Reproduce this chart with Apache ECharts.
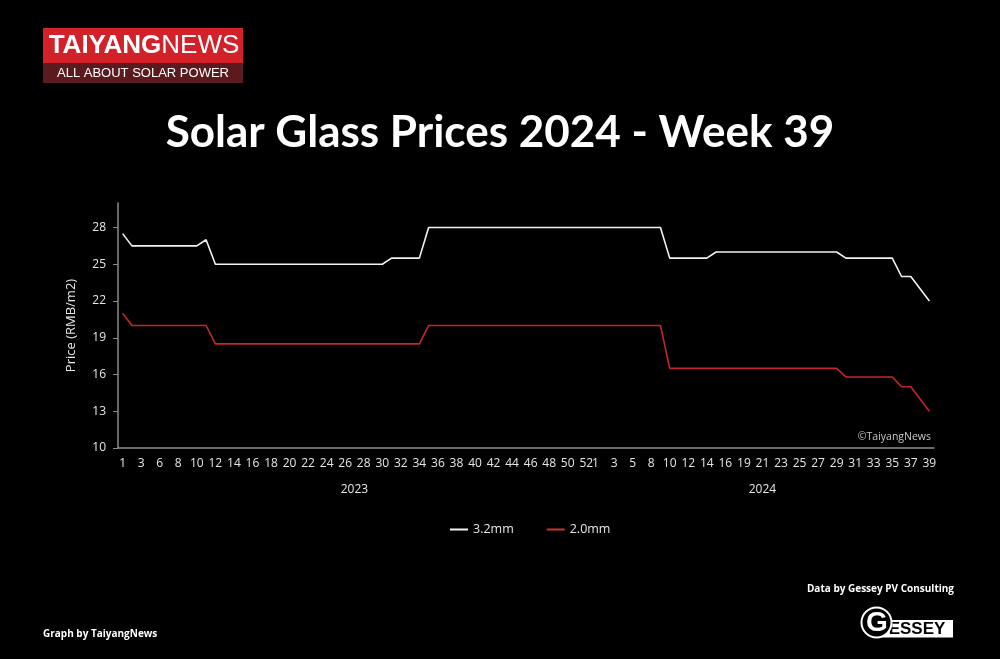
<!DOCTYPE html>
<html>
<head>
<meta charset="utf-8">
<script src="https://cdn.jsdelivr.net/npm/echarts@6/dist/echarts.min.js"></script>
<style>
html,body{margin:0;padding:0;background:#000;}
#c{width:1000px;height:659px;}
</style>
</head>
<body>
<div id="c"></div>
<script>
// Week numbers as shown on the category axis (grouped by year)
const weeks2023 = [1,2,3,5,6,7,8,9,10,11,12,13,14,15,16,17,18,19,20,21,22,23,24,25,26,27,28,29,30,31,32,33,34,35,36,37,38,39,40,41,42,43,44,45,46,47,48,49,50,51,52];
const weeks2024 = [1,2,3,4,5,7,8,9,10,11,12,13,14,15,16,17,19,20,21,22,23,24,25,26,27,28,29,30,31,32,33,34,35,36,37,38,39];
const years = ['2023','2024'];

// Prices (RMB/m2)
const price32mm = [
  27.5,
  26.5,26.5,26.5,26.5,26.5,26.5,26.5,26.5,
  27,
  25,25,25,25,25,25,25,25,25,25,25,25,25,25,25,25,25,25,25,
  25.5,25.5,25.5,25.5,
  28,28,28,28,28,28,28,28,28,28,28,28,28,28,28,28,28,28,28,28,28,28,28,28,28,28,
  25.5,25.5,25.5,25.5,25.5,
  26,26,26,26,26,26,26,26,26,26,26,26,26,26,
  25.5,25.5,25.5,25.5,25.5,25.5,
  24,24,
  23,
  22
];
const price20mm = [
  21,
  20,20,20,20,20,20,20,20,20,
  18.5,18.5,18.5,18.5,18.5,18.5,18.5,18.5,18.5,18.5,18.5,18.5,18.5,18.5,18.5,18.5,18.5,18.5,18.5,18.5,18.5,18.5,18.5,
  20,20,20,20,20,20,20,20,20,20,20,20,20,20,20,20,20,20,20,20,20,20,20,20,20,20,
  16.5,16.5,16.5,16.5,16.5,16.5,16.5,16.5,16.5,16.5,16.5,16.5,16.5,16.5,16.5,16.5,16.5,16.5,16.5,
  15.8,15.8,15.8,15.8,15.8,15.8,
  15,15,
  14,
  13
];
const yTicks = [10,13,16,19,22,25,28];

const categories = weeks2023.map(String).concat(weeks2024.map(String));
const n23 = weeks2023.length;
const n24 = weeks2024.length;
const mid23 = Math.floor(n23/2);
const mid24 = n23 + Math.floor(n24/2);

const chart = echarts.init(document.getElementById('c'), null, {renderer:'canvas'});
const font = 'Open Sans';
const option = {
  backgroundColor:'#000',
  animation:false,
  textStyle:{fontFamily:font},
  title:{
    text:'Solar Glass Prices 2024 - Week 39',
    left:'center', top:106,
    textStyle:{color:'#fff', fontSize:44, fontWeight:'bold', fontFamily:'Lato'}
  },
  legend:{
    left:445, top:518,
    icon:'rect', itemWidth:18, itemHeight:2, itemGap:33,
    textStyle:{color:'#e6e6e6', fontSize:12.5, fontFamily:font},
    data:['3.2mm','2.0mm']
  },
  grid:{left:118, right:66, top:203, bottom:211, containLabel:false},
  xAxis:[{
    type:'category',
    data:categories,
    boundaryGap:true,
    axisLine:{lineStyle:{color:'#8c8c8c', width:1.5}},
    axisTick:{show:false},
    axisLabel:{
      color:'#e6e6e6', fontSize:12, margin:10,
      interval:function(i){ return i < n23 ? i%2===0 : (i-n23)%2===0; }
    }
  },{
    type:'category',
    data:categories,
    position:'bottom',
    offset:26,
    boundaryGap:true,
    axisLine:{show:false},
    axisTick:{show:false},
    axisLabel:{
      color:'#e6e6e6', fontSize:12, margin:10,
      interval:function(i){ return i===mid23 || i===mid24; },
      formatter:function(v,i){ return i===mid23 ? years[0] : (i===mid24 ? years[1] : ''); }
    }
  }],
  yAxis:{
    type:'value',
    min:10, max:30, interval:3,
    name:'Price (RMB/m2)',
    nameLocation:'middle',
    nameGap:40,
    nameTextStyle:{color:'#e6e6e6', fontSize:13},
    axisLine:{show:true, lineStyle:{color:'#8c8c8c', width:1.5}},
    axisTick:{show:true, length:5, lineStyle:{color:'#8c8c8c'}, customValues:yTicks},
    axisLabel:{color:'#e6e6e6', fontSize:12, margin:12, customValues:yTicks,
      formatter:function(v){ return v===30 ? '' : v; }},
    splitLine:{show:false}
  },
  series:[{
    name:'3.2mm', type:'line', data:price32mm,
    symbol:'none', lineStyle:{color:'#f2f2f2', width:1.6}, itemStyle:{color:'#f2f2f2'}
  },{
    name:'2.0mm', type:'line', data:price20mm,
    symbol:'none', lineStyle:{color:'#c4262c', width:1.6}, itemStyle:{color:'#d0302f'}
  }],
  graphic:[
    {type:'rect', shape:{x:43,y:28,width:200,height:35}, style:{fill:'#d3212a'}},
    {type:'rect', shape:{x:43,y:63,width:200,height:20}, style:{fill:'#5a1a1e'}},
    {type:'text', x:144, y:45.5, style:{
      text:'{b|TAIYANG}{n|NEWS}', align:'center', verticalAlign:'middle',
      rich:{
        b:{fill:'#fff', fontSize:26, fontWeight:'bold', fontFamily:'Liberation Sans'},
        n:{fill:'#fff', fontSize:26, fontWeight:'normal', fontFamily:'Liberation Sans'}
      }
    }},
    {type:'text', x:143, y:73, style:{text:'ALL ABOUT SOLAR POWER', fill:'#fff', fontSize:13, fontFamily:'Liberation Sans', align:'center', verticalAlign:'middle'}},
    {type:'text', x:931, y:437, style:{text:'©TaiyangNews', fill:'#c8c8c8', fontSize:10.5, fontFamily:font, align:'right', verticalAlign:'middle'}},
    {type:'text', x:954, y:589, style:{text:'Data by Gessey PV Consulting', fill:'#fff', fontSize:10, fontWeight:'bold', fontFamily:font, align:'right', verticalAlign:'middle'}},
    {type:'text', x:43, y:634, style:{text:'Graph by TaiyangNews', fill:'#fff', fontSize:10, fontWeight:'bold', fontFamily:font, align:'left', verticalAlign:'middle'}},
    {type:'rect', shape:{x:880,y:620,width:73,height:17.5}, style:{fill:'#fff'}},
    {type:'text', x:917, y:629, style:{text:'ESSEY', fill:'#000', fontSize:17, fontWeight:'bold', fontFamily:'Liberation Sans', align:'center', verticalAlign:'middle'}},
    {type:'circle', shape:{cx:876.5,cy:622.5,r:15}, style:{fill:'#000', stroke:'#fff', lineWidth:2}},
    {type:'text', x:877, y:623.5, style:{text:'G', fill:'#fff', stroke:'#000', lineWidth:1.5, fontSize:28, fontWeight:'bold', fontFamily:'Liberation Sans', align:'center', verticalAlign:'middle'}}
  ]
};
chart.setOption(option);
</script>
</body>
</html>
